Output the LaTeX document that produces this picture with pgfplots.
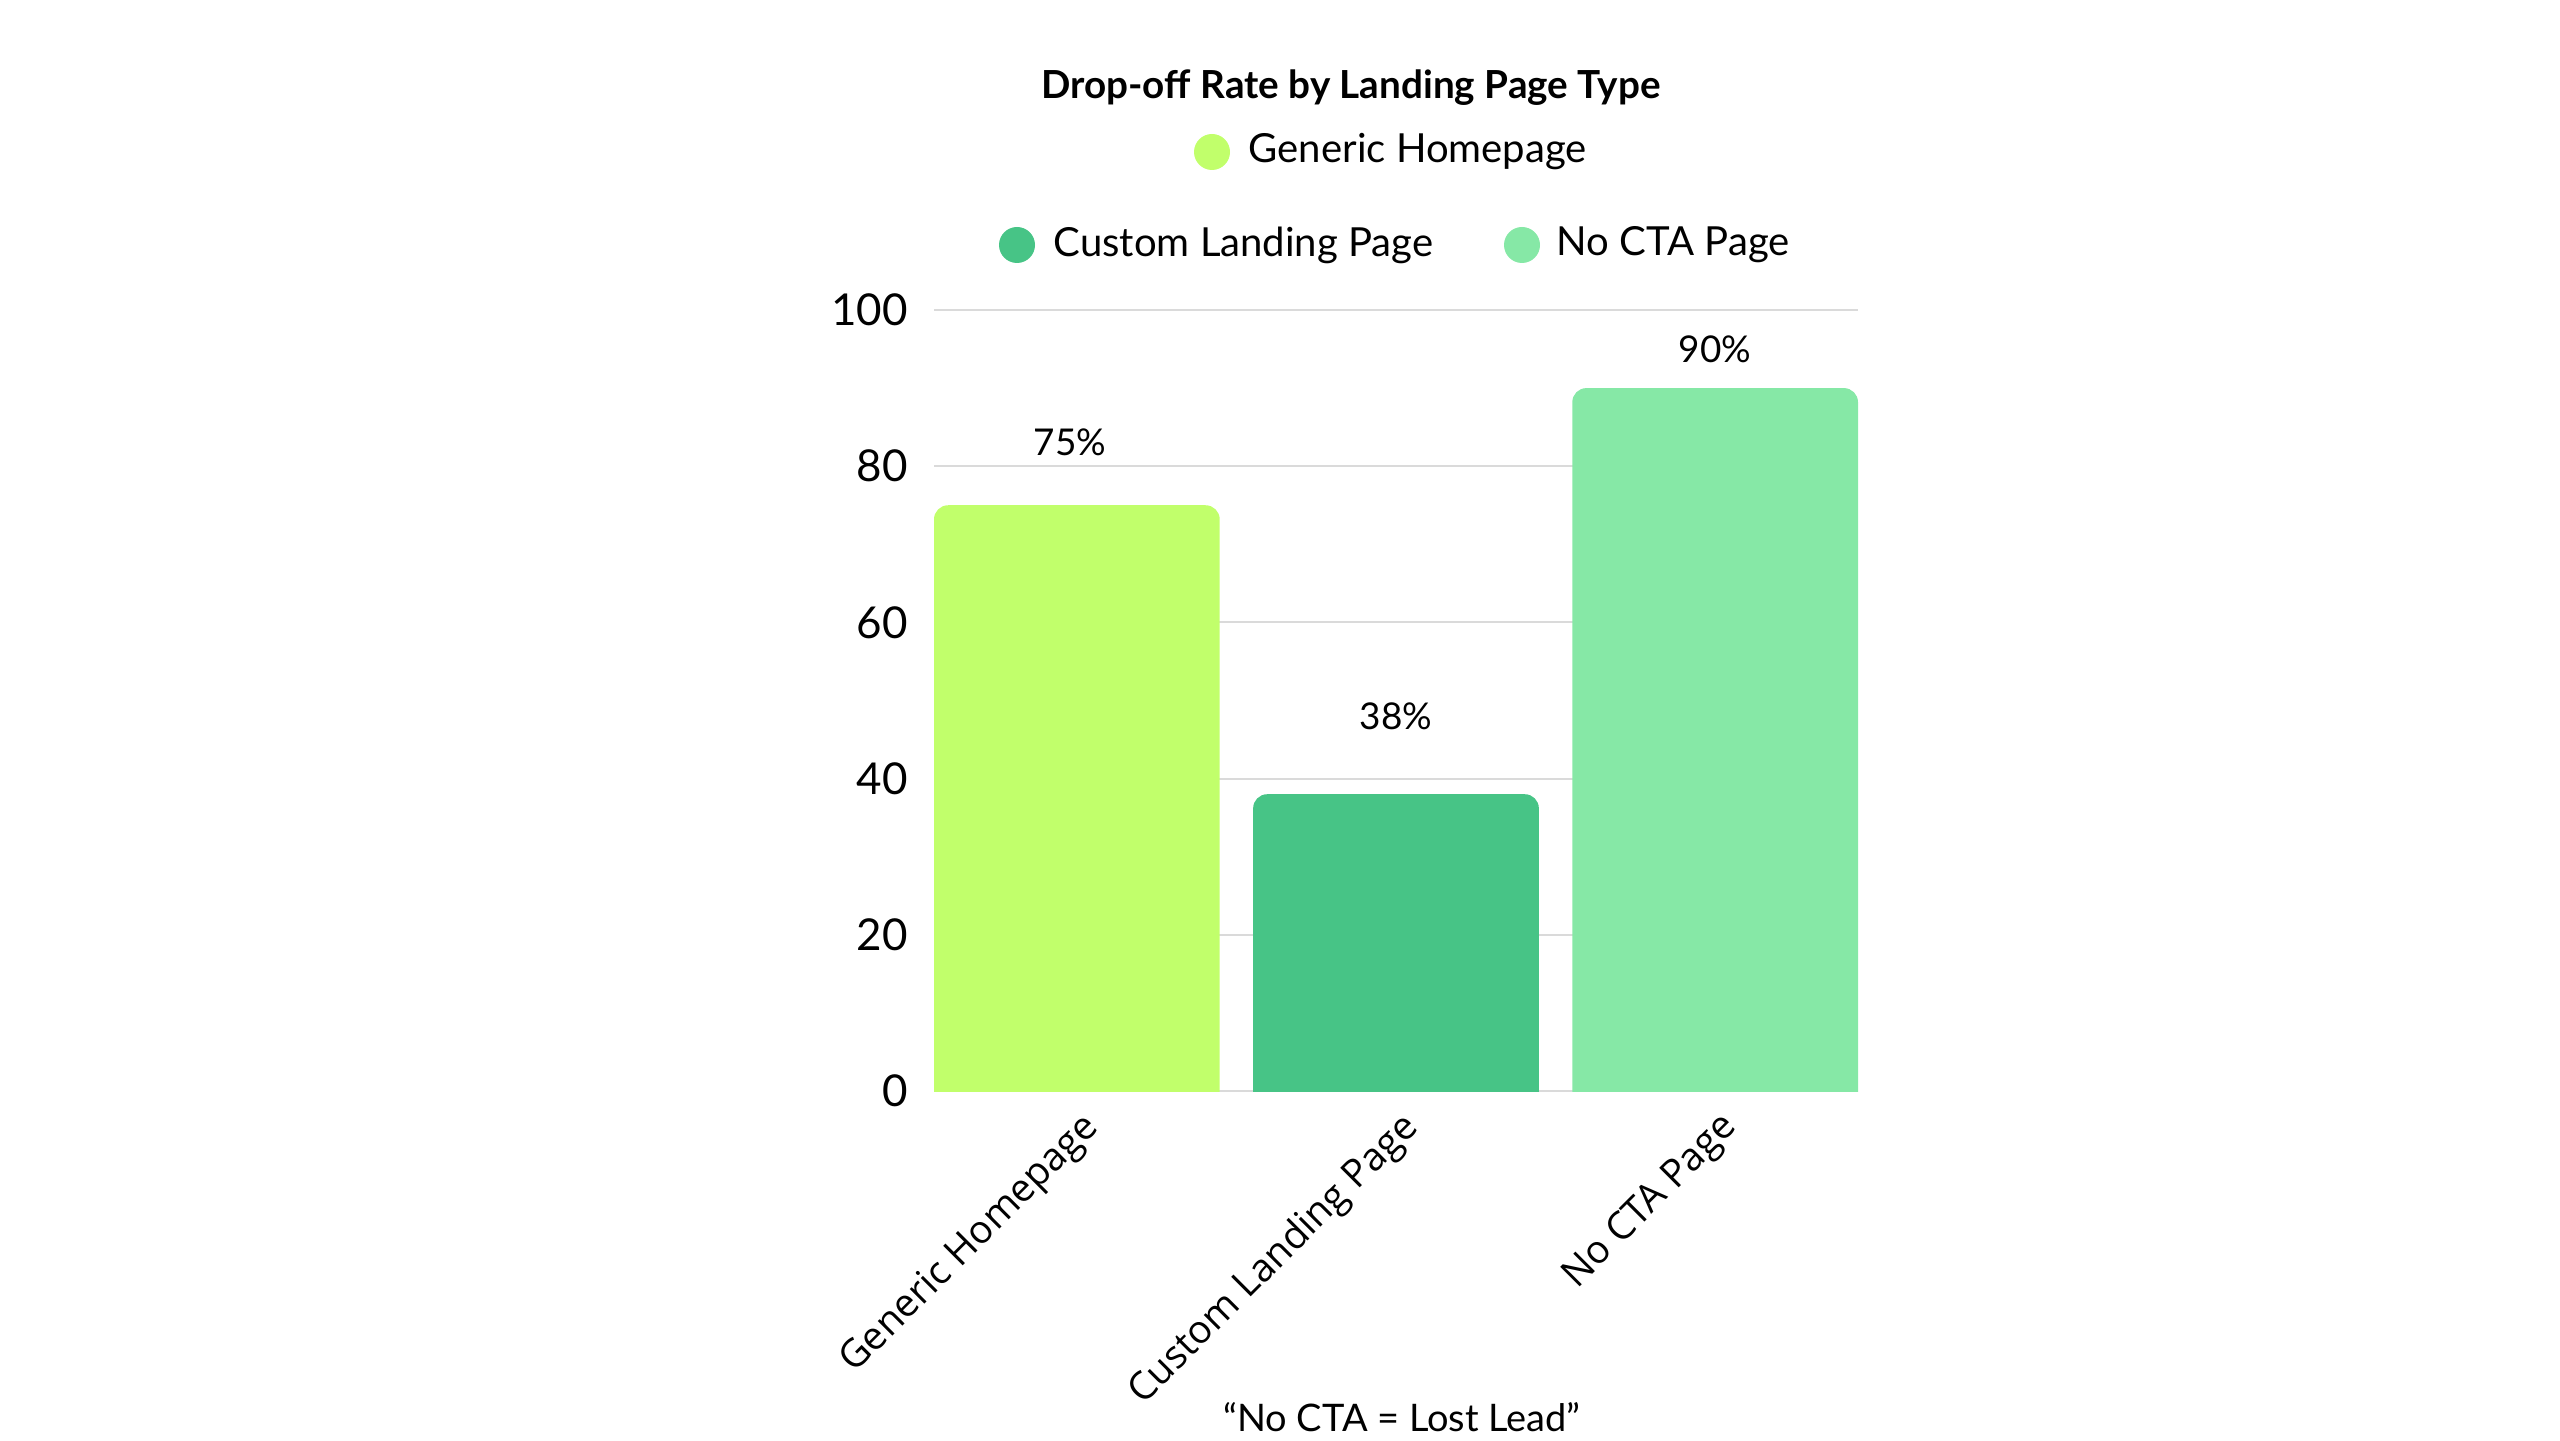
\documentclass[border=0pt]{standalone}
\usepackage{pgfplots}
\pgfplotsset{compat=1.18}
\usepackage{fontspec}
\setmainfont{Lato}
\newfontfamily\tickfont{Open Sans}
\definecolor{cLime}{HTML}{C1FF6B}
\definecolor{cGreen}{HTML}{47C486}
\definecolor{cMint}{HTML}{86E8A6}
\definecolor{gridgray}{HTML}{DADADA}
\begin{document}
\begin{tikzpicture}[x=1cm,y=1cm]
\useasboundingbox (0,0) rectangle (25.6,14.4);
\begin{axis}[
  at={(9.34cm,3.49cm)}, anchor=south west,
  width=9.24cm, height=7.81cm, scale only axis,
  xmin=-0.4476, xmax=2.4476, ymin=0, ymax=100,
  axis line style={draw=none}, major tick length=0pt,
  ytick={0,20,40,60,80,100},
  ymajorgrids, grid style={gridgray, line width=0.6pt},
  xtick={0,1,2}, xticklabels={Generic Homepage, Custom Landing Page, No CTA Page},
  xticklabel style={font=\tickfont\fontsize{11}{12}\selectfont, anchor=east, xshift=7.2pt, yshift=-6.3pt, rotate=45},
  yticklabel style={font=\fontsize{12.5}{14}\selectfont, xshift=-4pt},
  /pgf/number format/assume math mode=true,
  every node near coord/.append style={font=\fontsize{10.5}{12}\selectfont, text=black, anchor=south, inner sep=0pt},
]
\addplot[fill=cLime, draw=none, rounded corners=4pt] coordinates {(-0.4476,-10) (-0.4476,75) (0.4476,75) (0.4476,-10)} -- cycle;
\addplot[fill=cGreen, draw=none, rounded corners=4pt] coordinates {(0.5524,-10) (0.5524,38) (1.4476,38) (1.4476,-10)} -- cycle;
\addplot[fill=cMint, draw=none, rounded corners=4pt] coordinates {(1.5524,-10) (1.5524,90) (2.4476,90) (2.4476,-10)} -- cycle;
\addplot[draw=none, point meta=y, nodes near coords={\pgfmathprintnumber{\pgfplotspointmeta}\%}, every node near coord/.append style={yshift=14pt, xshift=-2pt}] coordinates {(0,75)};
\addplot[draw=none, point meta=y, nodes near coords={\pgfmathprintnumber{\pgfplotspointmeta}\%}, every node near coord/.append style={yshift=18pt}] coordinates {(1,38)};
\addplot[draw=none, point meta=y, nodes near coords={\pgfmathprintnumber{\pgfplotspointmeta}\%}, every node near coord/.append style={yshift=7pt}] coordinates {(2,90)};
\end{axis}
\node[font=\bfseries\fontsize{11}{13}\selectfont] at (13.51,13.52) {Drop-off Rate by Landing Page Type};
\fill[cLime] (12.12,12.88) circle (0.18);
\node[anchor=west, inner sep=0pt, font=\fontsize{11.4}{13}\selectfont] at (12.48,12.88) {Generic Homepage};
\fill[cGreen] (10.17,11.95) circle (0.18);
\node[anchor=west, inner sep=0pt, font=\fontsize{11.4}{13}\selectfont] at (10.53,11.95) {Custom Landing Page};
\fill[cMint] (15.22,11.95) circle (0.18);
\node[anchor=west, inner sep=0pt, font=\fontsize{11.4}{13}\selectfont] at (15.56,11.95) {No CTA Page};
\node[font=\fontsize{10.8}{13}\selectfont] at (14.02,0.23) {“No CTA = Lost Lead”};
\end{tikzpicture}
\end{document}
